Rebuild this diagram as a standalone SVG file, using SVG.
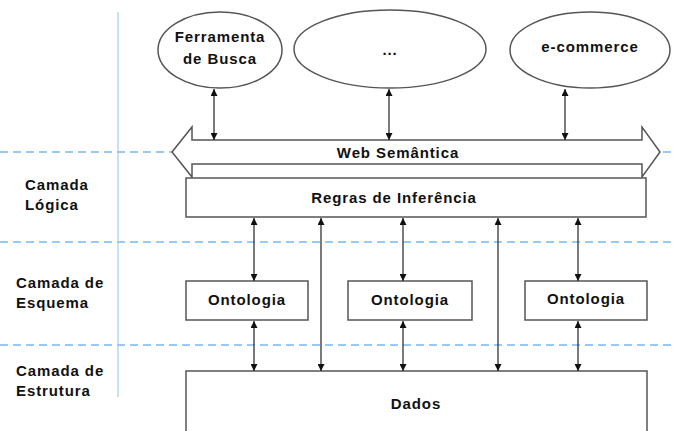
<svg xmlns="http://www.w3.org/2000/svg" width="673" height="431" viewBox="0 0 673 431">
<defs>
<style>
.t{font-family:"Liberation Sans",Arial,sans-serif;font-weight:bold;font-size:15px;letter-spacing:0.9px;fill:#111;}
.c{text-anchor:middle;}
.sh{fill:#fff;stroke:#555;stroke-width:1.5;}
.ln{stroke:#333;stroke-width:1.3;fill:none;}
.dash{stroke:#99c9f8;stroke-width:2;stroke-dasharray:8 5;}
</style>
<marker id="ah" viewBox="0 0 10 10" refX="10" refY="5" markerWidth="7" markerHeight="7" orient="auto-start-reverse" markerUnits="userSpaceOnUse">
<path d="M0,0 L10,5 L0,10 z" fill="#111"/>
</marker>
</defs>
<rect width="673" height="431" fill="#fff"/>
<g id="grid">
<line x1="118" y1="12" x2="118" y2="397" stroke="#b5d7fa" stroke-width="1.5"/>
<line class="dash" x1="0" y1="152" x2="673" y2="152"/>
<line class="dash" x1="0" y1="242" x2="673" y2="242"/>
<line class="dash" x1="0" y1="345" x2="673" y2="345"/>
</g>
<g id="labels">
<text class="t" x="25" y="190">Camada</text>
<text class="t" x="25" y="210">Lógica</text>
<text class="t" x="16" y="288">Camada de</text>
<text class="t" x="16" y="308">Esquema</text>
<text class="t" x="16" y="376">Camada de</text>
<text class="t" x="16" y="396">Estrutura</text>
</g>
<g id="ferramenta">
<ellipse class="sh" cx="220" cy="50" rx="62" ry="38"/>
<text class="t c" x="220" y="42">Ferramenta</text>
<text class="t c" x="220" y="64">de Busca</text>
</g>
<g id="reticencias">
<ellipse class="sh" cx="390" cy="49" rx="96" ry="39"/>
<text class="t c" x="390" y="55">...</text>
</g>
<g id="ecommerce">
<ellipse class="sh" cx="590" cy="50" rx="80" ry="38"/>
<text class="t c" x="590" y="52">e-commerce</text>
</g>
<g id="web-semantica">
<path class="sh" d="M172,152 L192,127 L192,140 L642,140 L642,127 L660,152 L642,177 L642,164 L192,164 L192,177 Z"/>
<text class="t c" x="398" y="158">Web Semântica</text>
</g>
<g id="regras">
<rect class="sh" x="186" y="178" width="460" height="39"/>
<text class="t c" x="394" y="203">Regras de Inferência</text>
</g>
<g id="ontologia1">
<rect class="sh" x="186" y="281" width="122" height="39"/>
<text class="t c" x="247" y="305">Ontologia</text>
</g>
<g id="ontologia2">
<rect class="sh" x="348" y="281" width="124" height="39"/>
<text class="t c" x="410" y="305">Ontologia</text>
</g>
<g id="ontologia3">
<rect class="sh" x="525" y="281" width="122" height="39"/>
<text class="t c" x="586" y="304">Ontologia</text>
</g>
<g id="dados">
<rect class="sh" x="186" y="371" width="461" height="70"/>
<text class="t c" x="416" y="409">Dados</text>
</g>
<g id="connectors">
<line class="ln" x1="214" y1="89" x2="214" y2="140" marker-start="url(#ah)" marker-end="url(#ah)"/>
<line class="ln" x1="389" y1="89" x2="389" y2="140" marker-start="url(#ah)" marker-end="url(#ah)"/>
<line class="ln" x1="565" y1="89" x2="565" y2="140" marker-start="url(#ah)" marker-end="url(#ah)"/>
<line class="ln" x1="254" y1="218" x2="254" y2="281" marker-start="url(#ah)" marker-end="url(#ah)"/>
<line class="ln" x1="403" y1="218" x2="403" y2="281" marker-start="url(#ah)" marker-end="url(#ah)"/>
<line class="ln" x1="578" y1="218" x2="578" y2="281" marker-start="url(#ah)" marker-end="url(#ah)"/>
<line class="ln" x1="321" y1="218" x2="321" y2="371" marker-start="url(#ah)" marker-end="url(#ah)"/>
<line class="ln" x1="498" y1="218" x2="498" y2="371" marker-start="url(#ah)" marker-end="url(#ah)"/>
<line class="ln" x1="254" y1="321" x2="254" y2="371" marker-start="url(#ah)" marker-end="url(#ah)"/>
<line class="ln" x1="403" y1="321" x2="403" y2="371" marker-start="url(#ah)" marker-end="url(#ah)"/>
<line class="ln" x1="578" y1="321" x2="578" y2="371" marker-start="url(#ah)" marker-end="url(#ah)"/>
</g>
</svg>
